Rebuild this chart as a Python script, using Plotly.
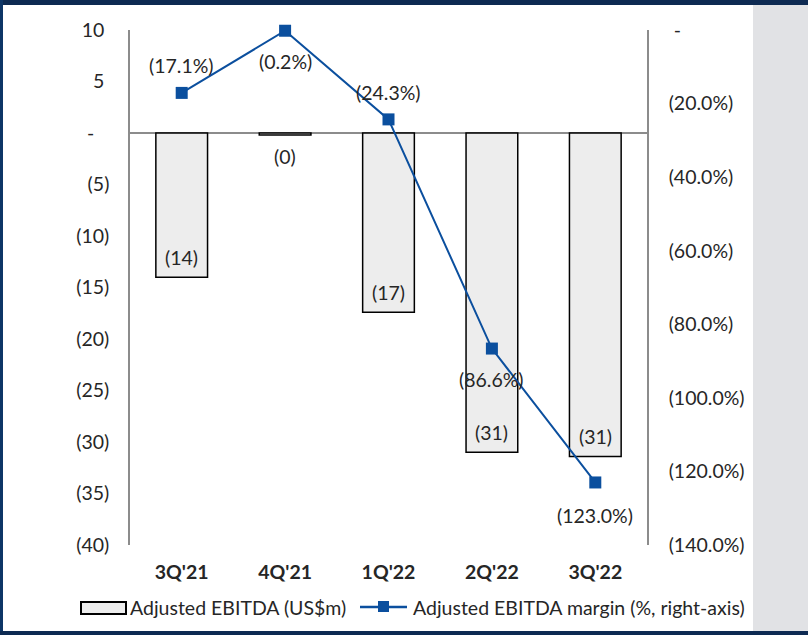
import plotly.graph_objects as go

quarters = ["3Q'21", "4Q'21", "1Q'22", "2Q'22", "3Q'22"]
ebitda = [-14.0, -0.2, -17.4, -31.0, -31.4]
ebitda_labels = ["(14)", "(0)", "(17)", "(31)", "(31)"]
margin_pct = [-17.1, -0.2, -24.3, -86.6, -123.0]
margin_labels = ["(17.1%)", "(0.2%)", "(24.3%)", "(86.6%)", "(123.0%)"]
series_names = ["Adjusted EBITDA (US$m)", "Adjusted EBITDA margin (%, right-axis)"]

left_tickvals = [10, 5, 0, -5, -10, -15, -20, -25, -30, -35, -40]
left_ticktext = ["10\u00a0", "5\u00a0", "-\u00a0\u00a0\u00a0", "(5)", "(10)", "(15)", "(20)", "(25)", "(30)", "(35)", "(40)"]
right_tickvals = [0, -20, -40, -60, -80, -100, -120, -140]
right_ticktext = ["\u00a0-", "(20.0%)", "(40.0%)", "(60.0%)", "(80.0%)", "(100.0%)", "(120.0%)", "(140.0%)"]

FONT = "Lato"
FS = 19.5
TXT = "#262626"
LINE_C = "#0b4f9e"
AX_C = "#8c8c8c"
BAR_C = "#ededed"

W, H = 808, 635
ML, MR, MT, MB = 130, 161, 30, 90
PW, PH = W - ML - MR, H - MT - MB

def px(x):
    return (x - ML) / PW

def py(y):
    return (H - MB - y) / PH

fig = go.Figure()
fig.add_trace(go.Bar(
    x=quarters, y=ebitda, name=series_names[0],
    marker=dict(color=BAR_C, line=dict(color="black", width=1.5)),
    width=0.5, yaxis="y",
))
fig.add_trace(go.Scatter(
    x=quarters, y=margin_pct, name=series_names[1],
    mode="lines+markers", line=dict(color=LINE_C, width=2),
    marker=dict(symbol="square", size=12, color=LINE_C), yaxis="y2",
    cliponaxis=False,
))

annotations = []
for q, v, t in zip(quarters, ebitda, ebitda_labels):
    shift = 20 if v < -1 else -21
    annotations.append(dict(x=q, y=v, xref="x", yref="y", text=t, showarrow=False,
                            yshift=shift, font=dict(family=FONT, size=FS, color=TXT)))
shifts = [27, -31, 27, -31, -33]
for q, v, t, s in zip(quarters, margin_pct, margin_labels, shifts):
    annotations.append(dict(x=q, y=v, xref="x", yref="y2", text=t, showarrow=False,
                            yshift=s, font=dict(family=FONT, size=FS, color=TXT)))

# hand-drawn legend (wide swatches like the original)
LEG_Y = 607
annotations.append(dict(x=px(128), y=py(LEG_Y), xref="paper", yref="paper", text=series_names[0],
                        xanchor="left", yanchor="middle", showarrow=False,
                        font=dict(family=FONT, size=FS, color=TXT)))
annotations.append(dict(x=px(411), y=py(LEG_Y), xref="paper", yref="paper", text=series_names[1],
                        xanchor="left", yanchor="middle", showarrow=False,
                        font=dict(family=FONT, size=FS, color=TXT)))

shapes = [
    dict(type="rect", xref="paper", yref="paper", x0=px(753), x1=px(W), y0=py(H), y1=py(0),
         fillcolor="#e1e2e5", line=dict(width=0), layer="below"),
    dict(type="rect", xref="paper", yref="paper", x0=px(0), x1=px(W), y0=py(5), y1=py(0),
         fillcolor="#0d2a52", line=dict(width=0)),
    dict(type="rect", xref="paper", yref="paper", x0=px(0), x1=px(3), y0=py(H), y1=py(0),
         fillcolor="#0d3566", line=dict(width=0)),
    dict(type="rect", xref="paper", yref="paper", x0=px(0), x1=px(W), y0=py(H), y1=py(631),
         fillcolor="#0d2a52", line=dict(width=0)),
    # legend swatches
    dict(type="rect", xref="paper", yref="paper", x0=px(81), x1=px(126), y0=py(614), y1=py(602),
         fillcolor=BAR_C, line=dict(color="black", width=2)),
    dict(type="line", xref="paper", yref="paper", x0=px(360), x1=px(407), y0=py(607), y1=py(607),
         line=dict(color=LINE_C, width=2.5)),
    dict(type="rect", xref="paper", yref="paper", x0=px(378), x1=px(389), y0=py(612), y1=py(601),
         fillcolor=LINE_C, line=dict(width=0)),
]

fig.update_layout(
    width=W, height=H,
    margin=dict(l=ML, r=MR, t=MT, b=MB, autoexpand=False),
    paper_bgcolor="white", plot_bgcolor="rgba(0,0,0,0)",
    font=dict(family=FONT, size=FS, color=TXT),
    showlegend=False,
    xaxis=dict(showline=False, ticks="", showgrid=False, zeroline=False,
               tickfont=dict(family=FONT, size=FS, color=TXT, weight="bold"),
               ticklabelstandoff=13),
    yaxis=dict(range=[-40, 10], tickvals=left_tickvals, ticktext=left_ticktext,
               showline=True, linecolor=AX_C, linewidth=1.5, ticks="", showgrid=False,
               zeroline=True, zerolinecolor=AX_C, zerolinewidth=1.5,
               tickfont=dict(family=FONT, size=FS, color=TXT), ticklabelstandoff=15),
    yaxis2=dict(range=[-140, 0], tickvals=right_tickvals, ticktext=right_ticktext,
                overlaying="y", side="right",
                showline=True, linecolor=AX_C, linewidth=1.5, ticks="", showgrid=False,
                zeroline=False, tickfont=dict(family=FONT, size=FS, color=TXT),
                ticklabelstandoff=16),
    annotations=annotations,
    shapes=shapes,
)

fig.write_html("out.html")
